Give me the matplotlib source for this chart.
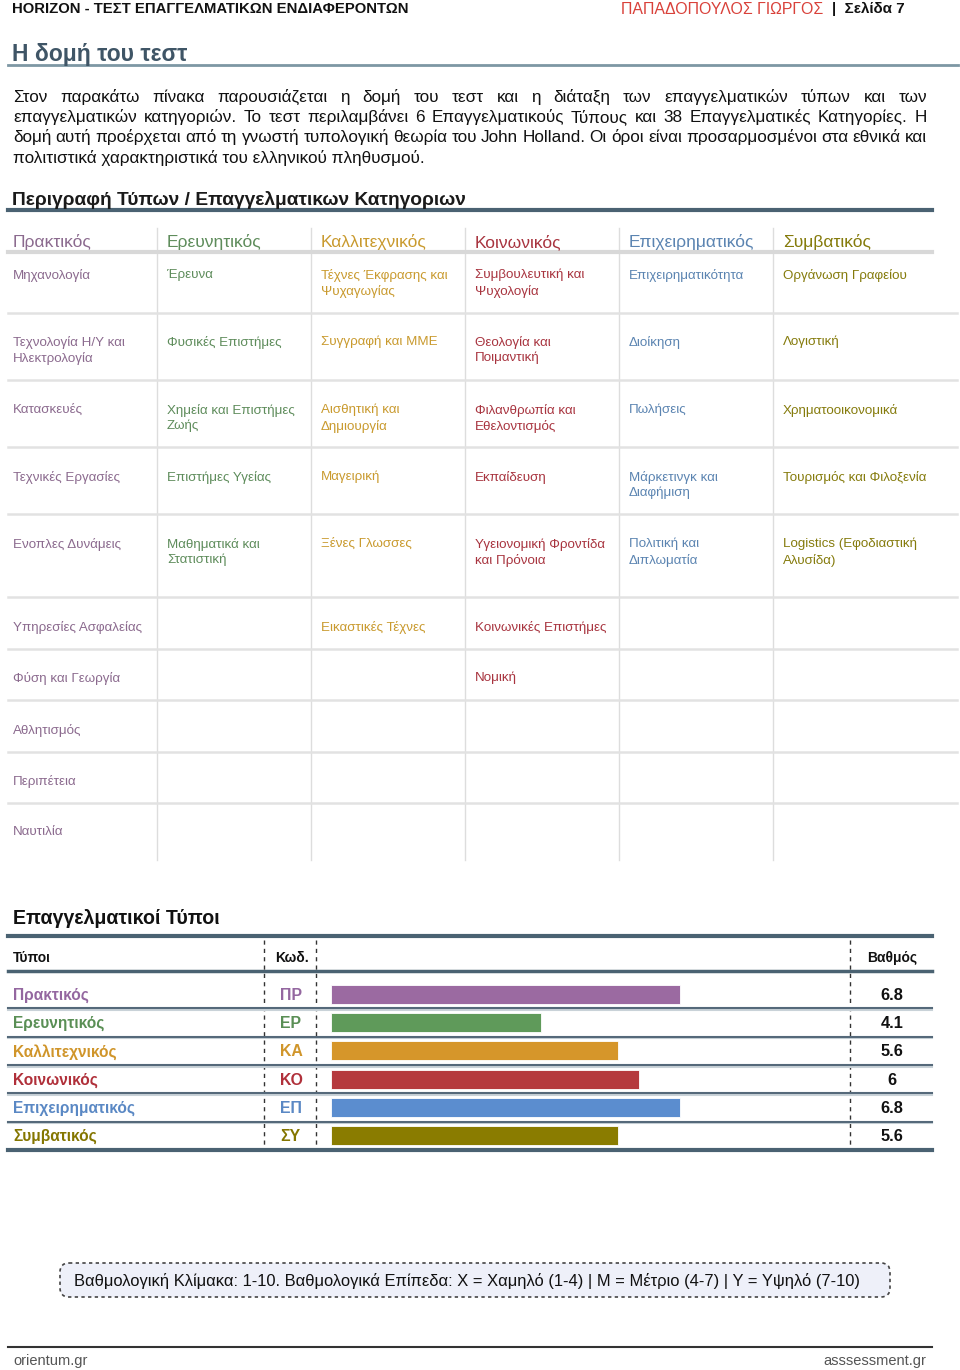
import matplotlib.pyplot as plt
from matplotlib.patches import FancyBboxPatch

FONT = 'Liberation Sans'

# ---- data ----
types = ['Πρακτικός', 'Ερευνητικός', 'Καλλιτεχνικός', 'Κοινωνικός', 'Επιχειρηματικός', 'Συμβατικός']
codes = ['ΠΡ', 'ΕΡ', 'ΚΑ', 'ΚΟ', 'ΕΠ', 'ΣΥ']
scores = [6.8, 4.1, 5.6, 6, 6.8, 5.6]
score_labels = ['6.8', '4.1', '5.6', '6', '6.8', '5.6']

bar_colors = ['#9b6aa1', '#5f9a5a', '#d6962a', '#b5393d', '#5b8dcf', '#8a7c00']
name_colors = ['#9467a0', '#5a8f55', '#d0952a', '#b0303a', '#5a88c4', '#847600']
grid_colors = ['#8b6a8e', '#5e8c5b', '#c99a2e', '#a8343f', '#5b84b1', '#857b0c']

cat_practical = ['Μηχανολογία', 'Τεχνολογία Η/Υ και\nΗλεκτρολογία', 'Κατασκευές', 'Τεχνικές Εργασίες',
                 'Ενοπλες Δυνάμεις', 'Υπηρεσίες Ασφαλείας', 'Φύση και Γεωργία', 'Αθλητισμός',
                 'Περιπέτεια', 'Ναυτιλία']
cat_research = ['Έρευνα', 'Φυσικές Επιστήμες', 'Χημεία και Επιστήμες\nΖωής', 'Επιστήμες Υγείας',
                'Μαθηματικά και\nΣτατιστική']
cat_artistic = ['Τέχνες Έκφρασης και\nΨυχαγωγίας', 'Συγγραφή και ΜΜΕ', 'Αισθητική και\nΔημιουργία',
                'Μαγειρική', 'Ξένες Γλωσσες', 'Εικαστικές Τέχνες']
cat_social = ['Συμβουλευτική και\nΨυχολογία', 'Θεολογία και\nΠοιμαντική', 'Φιλανθρωπία και\nΕθελοντισμός',
              'Εκπαίδευση', 'Υγειονομική Φροντίδα\nκαι Πρόνοια', 'Κοινωνικές Επιστήμες', 'Νομική']
cat_enterprising = ['Επιχειρηματικότητα', 'Διοίκηση', 'Πωλήσεις', 'Μάρκετινγκ και\nΔιαφήμιση',
                    'Πολιτική και\nΔιπλωματία']
cat_conventional = ['Οργάνωση Γραφείου', 'Λογιστική', 'Χρηματοοικονομικά', 'Τουρισμός και Φιλοξενία',
                    'Logistics (Εφοδιαστική\nΑλυσίδα)']
categories = [cat_practical, cat_research, cat_artistic, cat_social, cat_enterprising, cat_conventional]

intro_lines = [
    'Στον παρακάτω πίνακα παρουσιάζεται η δομή του τεστ και η διάταξη των επαγγελματικών τύπων και των',
    'επαγγελματικών κατηγοριών. Το τεστ περιλαμβάνει 6 Επαγγελματικούς Τύπους και 38 Επαγγελματικές Κατηγορίες. Η',
    'δομή αυτή προέρχεται από τη γνωστή τυπολογική θεωρία του John Holland. Οι όροι είναι προσαρμοσμένοι στα εθνικά και',
    'πολιτιστικά χαρακτηριστικά του ελληνικού πληθυσμού.',
]
scale_note = ('Βαθμολογική Κλίμακα: 1-10. Βαθμολογικά Επίπεδα: Χ = Χαμηλό (1-4) | '
              'Μ = Μέτριο (4-7) | Υ = Υψηλό (7-10)')

W, H = 960, 1370
fig = plt.figure(figsize=(W / 100, H / 100), dpi=100)
fig.patch.set_facecolor('white')
ax = fig.add_axes([0, 0, 1, 1])
ax.set_xlim(0, W)
ax.set_ylim(H, 0)
ax.axis('off')
renderer = fig.canvas.get_renderer()

SLATE = '#4a6272'

# ---- page header ----
ax.text(12, 9, 'HORIZON - ΤΕΣΤ ΕΠΑΓΓΕΛΜΑΤΙΚΩΝ ΕΝΔΙΑΦΕΡΟΝΤΩΝ', family=FONT, size=10.7,
        weight='bold', color='#111111', va='center')
ax.text(905, 9, '|  Σελίδα 7', family=FONT, size=10.9, weight='bold', color='#111111',
        va='center', ha='right')
ax.text(823, 9, 'ΠΑΠΑΔΟΠΟΥΛΟΣ ΓΙΩΡΓΟΣ', family=FONT, size=11.4, color='#d9413a',
        va='center', ha='right')

ax.text(12, 54, 'Η δομή του τεστ', family=FONT, size=16.5, weight='bold', color='#3f5566',
        va='center')
ax.plot([8, 958], [65, 65], color='#7d97a4', lw=2)

# ---- justified intro paragraph ----
def justified(line, y, x0, x1):
    words = line.split()
    texts = [ax.text(0, y, w, family=FONT, size=12.3, color='#111111', va='center')
             for w in words]
    widths = [t.get_window_extent(renderer).width for t in texts]
    gap = (x1 - x0 - sum(widths)) / (len(texts) - 1)
    x = x0
    for t, w in zip(texts, widths):
        t.set_x(x)
        x += w + gap

for i, line in enumerate(intro_lines):
    y = [97, 117, 137, 158][i]
    if i < len(intro_lines) - 1:
        justified(line, y, 13, 927)
    else:
        ax.text(13, y, line, family=FONT, size=12.3, color='#111111', va='center')

ax.text(12, 200, 'Περιγραφή Τύπων / Επαγγελματικων Κατηγοριων', family=FONT, size=13.8,
        weight='bold', color='#1a1a1a', va='center')
ax.plot([8, 932], [210, 210], color=SLATE, lw=3)

# ---- category grid ----
col_x = [13, 167, 321, 475, 629, 783]
row_y = [275, 342, 410, 477, 544, 627, 678, 730, 781, 832]
row_lines = [313, 380, 447, 514, 597, 649, 700, 752, 803]

for xv in [157, 311, 465, 619, 773]:
    ax.plot([xv, xv], [228, 860], color='#dddddd', lw=1)
for yv in row_lines:
    ax.plot([8, 957], [yv, yv], color='#e2e2e2', lw=1.8)
ax.plot([8, 932], [252, 252], color='#d8d8d8', lw=3)

for j, (name, cats) in enumerate(zip(types, categories)):
    ax.text(col_x[j], 242, name, family=FONT, size=12.5, color=grid_colors[j], va='center')
    for i, cat in enumerate(cats):
        for k, part in enumerate(cat.split('\n')):
            ax.text(col_x[j], row_y[i] + 16 * k, part, family=FONT, size=9.6, color=grid_colors[j],
                    va='center')

# ---- score table ----
ax.text(13, 918, 'Επαγγελματικοί Τύποι', family=FONT, size=14.1, weight='bold',
        color='#111111', va='center')
ax.plot([8, 932], [936, 936], color=SLATE, lw=3)
ax.text(13, 958, 'Τύποι', family=FONT, size=10, weight='bold', color='#111111', va='center')
ax.text(275, 958, 'Κωδ.', family=FONT, size=10, weight='bold', color='#111111', va='center')
ax.text(892, 958, 'Βαθμός', family=FONT, size=10, weight='bold', color='#111111',
        va='center', ha='center')
ax.plot([8, 932], [971, 971], color=SLATE, lw=2.5)

top, bottom = 980, 1150
row_h = (bottom - top) / len(types)
for xv in [264, 316, 850]:
    ax.plot([xv, xv], [940, bottom], color='#333333', lw=1, ls=(0, (3, 3)))
for k in range(1, len(types)):
    yv = top + row_h * k
    ax.plot([8, 932], [yv + 1.5, yv + 1.5], color='#c9d2d8', lw=1.5)
    ax.plot([8, 932], [yv, yv], color='#55697a', lw=1.5)
ax.plot([8, 932], [bottom, bottom], color=SLATE, lw=3)

for i, (name, code, lab) in enumerate(zip(types, codes, score_labels)):
    yc = top + row_h * (i + 0.5) + 1
    ax.text(13, yc, name, family=FONT, size=11.2, weight='bold', color=name_colors[i],
            va='center')
    ax.text(280, yc, code, family=FONT, size=11.4, weight='bold', color=name_colors[i],
            va='center')
    ax.text(892, yc, lab, family=FONT, size=11.8, weight='bold', color='#111111',
            va='center', ha='center')

bx = fig.add_axes([331 / W, 1 - bottom / H, (844 - 331) / W, (bottom - top) / H])
bx.barh(range(len(types)), scores, height=0.66, color=bar_colors, edgecolor='white', linewidth=0.6)
bx.set_xlim(0, 10)
bx.set_ylim(len(types) - 0.5, -0.5)
bx.axis('off')

# ---- scale note ----
box = FancyBboxPatch((60, 1263), 830, 34, boxstyle='round,pad=0,rounding_size=9',
                     facecolor='#eef0f9', edgecolor='#444444', lw=1.2, ls=(0, (2, 2)))
ax.add_patch(box)
ax.text(74, 1281, scale_note, family=FONT, size=11.9, color='#111111', va='center')

# ---- footer ----
ax.plot([8, 932], [1347, 1347], color='#333333', lw=1.5)
ax.text(13, 1361, 'orientum.gr', family=FONT, size=10.5, color='#555555', va='center')
ax.text(926, 1361, 'asssessment.gr', family=FONT, size=10.5, color='#555555', va='center',
        ha='right')

fig.savefig('out.png', dpi=100, facecolor='white')
